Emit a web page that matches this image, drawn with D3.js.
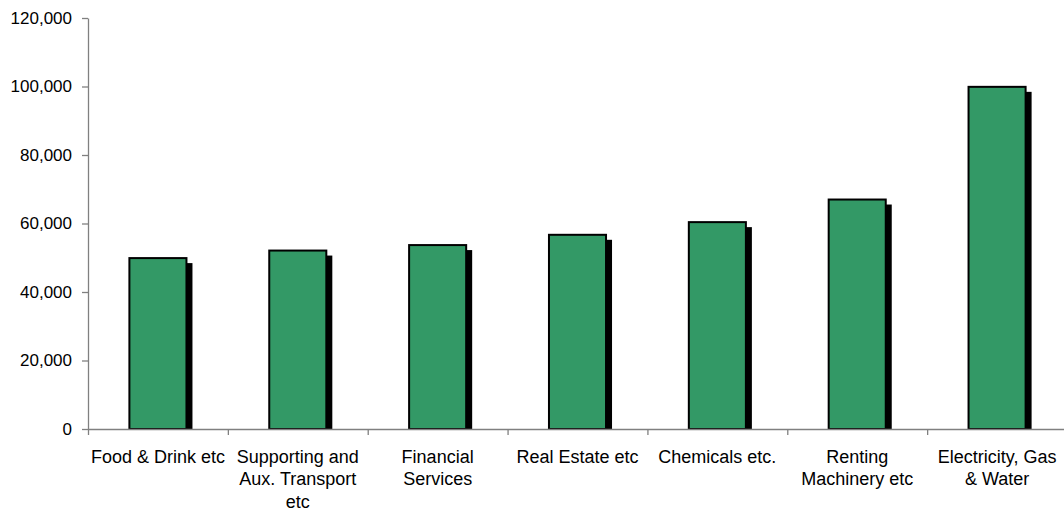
<!DOCTYPE html>
<html>
<head>
<meta charset="utf-8">
<script src="https://cdn.jsdelivr.net/npm/d3@7"></script>
<style>
  html, body { margin: 0; padding: 0; background: #fff; }
  svg { display: block; }
  text { font-family: "Liberation Sans", Arial, sans-serif; fill: #000; }
</style>
</head>
<body>
<svg id="chart" width="1064" height="516"></svg>
<script>
// Sector names (split into the lines they are printed on)
const categories = [
  ["Food & Drink etc"],
  ["Supporting and", "Aux. Transport", "etc"],
  ["Financial", "Services"],
  ["Real Estate etc"],
  ["Chemicals etc."],
  ["Renting", "Machinery etc"],
  ["Electricity, Gas", "& Water"]
];
const values = [49900, 52100, 53700, 56700, 60400, 67000, 99900];
const yTicks = [0, 20000, 40000, 60000, 80000, 100000, 120000];

const svg = d3.select("#chart");
const plot = { left: 88, right: 1067, top: 18, bottom: 429 };
const tickFont = 17, labelFont = 18;

const names = categories.map(c => c.join(" "));

const x = d3.scaleBand()
  .domain(names)
  .range([plot.left, plot.right])
  .paddingInner(0.592)
  .paddingOuter(0.296);

const y = d3.scaleLinear().domain([0, 120000]).range([plot.bottom, plot.top]);

// boundaries between categories for the tick marks
const xEdge = d3.scaleLinear().domain([0, names.length]).range([plot.left, plot.right]);

// Y axis
const yAxis = svg.append("g")
  .attr("transform", `translate(${plot.left},0)`)
  .call(d3.axisLeft(y).tickValues(yTicks).tickFormat(d3.format(",")).tickSize(6).tickSizeOuter(0).tickPadding(10));
yAxis.select(".domain").attr("stroke", "#808080").attr("stroke-width", 1.3);
yAxis.selectAll(".tick line").attr("stroke", "#808080").attr("stroke-width", 1.3);
yAxis.selectAll(".tick text").attr("font-size", tickFont).attr("font-family", "Liberation Sans, Arial, sans-serif").attr("fill", "#000");

// Bars with drop shadow
const shadowDx = 6, shadowDy = 5;
const bars = svg.append("g");
bars.selectAll("rect.shadow")
  .data(values)
  .join("rect")
  .attr("class", "shadow")
  .attr("x", (d, i) => x(names[i]) + shadowDx)
  .attr("y", d => y(d) + shadowDy)
  .attr("width", x.bandwidth())
  .attr("height", d => Math.max(0, y(0) - y(d) - shadowDy))
  .attr("fill", "#000");
bars.selectAll("rect.bar")
  .data(values)
  .join("rect")
  .attr("class", "bar")
  .attr("x", (d, i) => x(names[i]))
  .attr("y", d => y(d))
  .attr("width", x.bandwidth())
  .attr("height", d => y(0) - y(d))
  .attr("fill", "#339966")
  .attr("stroke", "#000")
  .attr("stroke-width", 2);

// X axis with ticks at category boundaries
const xAxis = svg.append("g")
  .attr("transform", `translate(0,${plot.bottom})`)
  .call(d3.axisBottom(xEdge).tickValues(d3.range(0, names.length + 1)).tickFormat("").tickSize(6).tickSizeOuter(0));
xAxis.select(".domain").attr("stroke", "#808080").attr("stroke-width", 1.3);
xAxis.selectAll(".tick line").attr("stroke", "#808080").attr("stroke-width", 1.3);

// Category labels
const labels = svg.append("g");
categories.forEach((lines, i) => {
  const cx = x(names[i]) + x.bandwidth() / 2;
  const t = labels.append("text")
    .attr("text-anchor", "middle")
    .attr("font-size", labelFont)
    .attr("x", cx)
    .attr("y", 462.5);
  lines.forEach((ln, j) => {
    t.append("tspan").attr("x", cx).attr("dy", j === 0 ? 0 : 22.5).text(ln);
  });
});
</script>
</body>
</html>
